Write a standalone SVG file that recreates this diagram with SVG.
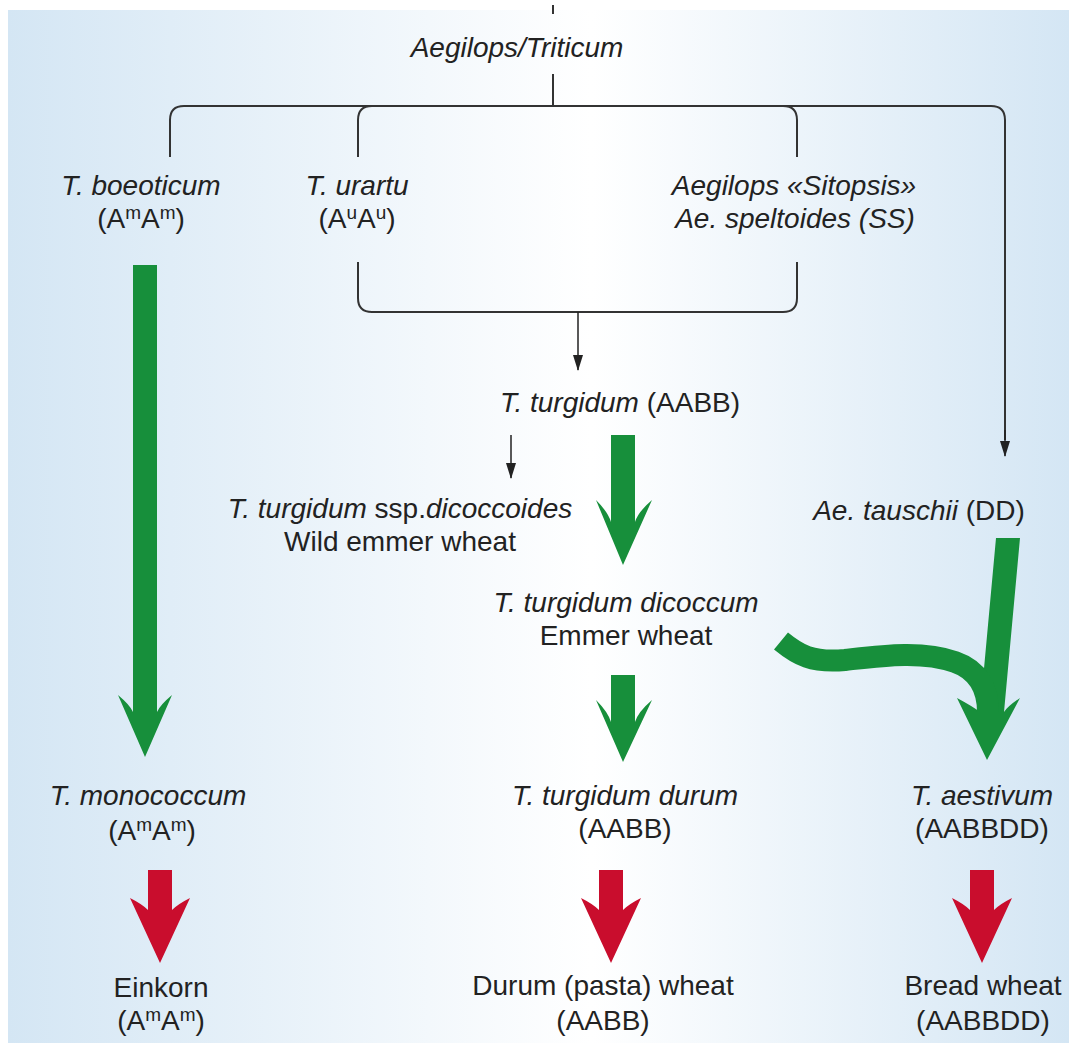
<svg xmlns="http://www.w3.org/2000/svg" width="1069" height="1043" viewBox="0 0 1069 1043">
<defs>
<linearGradient id="bg" x1="0" y1="0" x2="1" y2="0">
<stop offset="0" stop-color="#d4e6f4"/>
<stop offset="0.55" stop-color="#ffffff"/>
<stop offset="1" stop-color="#d4e6f4"/>
</linearGradient>
<marker id="ah" viewBox="0 0 16 10" refX="15" refY="5" markerWidth="16" markerHeight="10" markerUnits="userSpaceOnUse" orient="auto">
<path d="M0 0 L16 5 L0 10 Z" fill="#222"/>
</marker>
</defs>
<style>
text{font-family:"Liberation Sans",Arial,sans-serif;font-size:28px;fill:#222;text-anchor:middle}
.i{font-style:italic}
.ln{fill:none;stroke:#333;stroke-width:2}
.thin{fill:none;stroke:#222;stroke-width:1.5}
.g{fill:#178f3b}
.r{fill:#c90d2d}
</style>
<rect x="0" y="0" width="1069" height="1043" fill="#ffffff"/>
<rect x="8" y="10" width="1061" height="1033" fill="url(#bg)"/>

<g id="connectors">
<line class="ln" x1="553" y1="5" x2="553" y2="14"/>
<path class="ln" d="M553 74 V106"/>
<path class="ln" d="M170 157 V120 Q170 106 184 106 H991 Q1005 106 1005 120 V440"/>
<path class="thin" d="M1005 430 V456" marker-end="url(#ah)"/>
<path class="ln" d="M358 157 V120 Q358 106 372 106"/>
<path class="ln" d="M783 106 Q797 106 797 120 V157"/>
<path class="ln" d="M358 262 V298 Q358 312 372 312 H783 Q797 312 797 298 V262"/>
<path class="thin" d="M578 312 V370" marker-end="url(#ah)"/>
<path class="thin" d="M511 435 V478" marker-end="url(#ah)"/>

<path class="g" d="M133 265 H157 V712 Q160 705 172 695 L145 757 L118 695 Q130 705 133 712 Z"/>
<path class="g" d="M611 435 H635 V522 Q638 512 652 500 L623 565 L596 500 Q608 512 611 522 Z"/>
<path class="g" d="M611 675 H635 V722 Q638 712 652 700 L623 762 L596 700 Q608 712 611 722 Z"/>
<path class="g" d="M996 538 H1020 L1004 712 Q1008 706 1020 698 L987 760 L957 698 Q972 706 980 712 Z"/>
<path d="M781 641 C798 655 812 663 845 660 C880 656 922 650 955 662 C978 670 988 688 988 712" fill="none" stroke="#178f3b" stroke-width="22"/>

<path class="r" d="M148 870 H172 V910 Q178 904 190 898 L160 963 L130 898 Q142 904 148 910 Z"/>
<path class="r" d="M599 870 H623 V910 Q629 904 641 898 L611 963 L581 898 Q593 904 599 910 Z"/>
<path class="r" d="M970 870 H994 V910 Q1000 904 1012 898 L982 963 L952 898 Q964 904 970 910 Z"/>
</g>

<g id="root"><text class="i" x="517" y="57">Aegilops/Triticum</text></g>
<g id="boeoticum"><text class="i" x="141" y="195">T. boeoticum</text><text x="141" y="228">(A<tspan dy="-9" font-size="19">m</tspan><tspan dy="9">A</tspan><tspan dy="-9" font-size="19">m</tspan><tspan dy="9">)</tspan></text></g>
<g id="urartu"><text class="i" x="357" y="195">T. urartu</text><text x="357" y="228">(A<tspan dy="-9" font-size="19">u</tspan><tspan dy="9">A</tspan><tspan dy="-9" font-size="19">u</tspan><tspan dy="9">)</tspan></text></g>
<g id="sitopsis"><text class="i" x="794" y="195">Aegilops «Sitopsis»</text><text class="i" x="795" y="228">Ae. speltoides (SS)</text></g>
<g id="turgidum"><text x="620" y="412"><tspan class="i">T. turgidum</tspan> (AABB)</text></g>
<g id="dicoccoides"><text x="400" y="518"><tspan class="i">T. turgidum</tspan> ssp.<tspan class="i">dicoccoides</tspan></text><text x="400" y="551">Wild emmer wheat</text></g>
<g id="tauschii"><text x="919" y="520"><tspan class="i">Ae. tauschii</tspan> (DD)</text></g>
<g id="dicoccum"><text class="i" x="626" y="612">T. turgidum dicoccum</text><text x="626" y="645">Emmer wheat</text></g>
<g id="monococcum"><text class="i" x="148" y="805">T. monococcum</text><text x="152" y="840">(A<tspan dy="-9" font-size="19">m</tspan><tspan dy="9">A</tspan><tspan dy="-9" font-size="19">m</tspan><tspan dy="9">)</tspan></text></g>
<g id="durum"><text class="i" x="625" y="805">T. turgidum durum</text><text x="625" y="838">(AABB)</text></g>
<g id="aestivum"><text class="i" x="982" y="805">T. aestivum</text><text x="982" y="838">(AABBDD)</text></g>
<g id="einkorn"><text x="161" y="997">Einkorn</text><text x="161" y="1030">(A<tspan dy="-9" font-size="19">m</tspan><tspan dy="9">A</tspan><tspan dy="-9" font-size="19">m</tspan><tspan dy="9">)</tspan></text></g>
<g id="pasta"><text x="603" y="995">Durum (pasta) wheat</text><text x="603" y="1030">(AABB)</text></g>
<g id="bread"><text x="983" y="995">Bread wheat</text><text x="983" y="1030">(AABBDD)</text></g>
</svg>
